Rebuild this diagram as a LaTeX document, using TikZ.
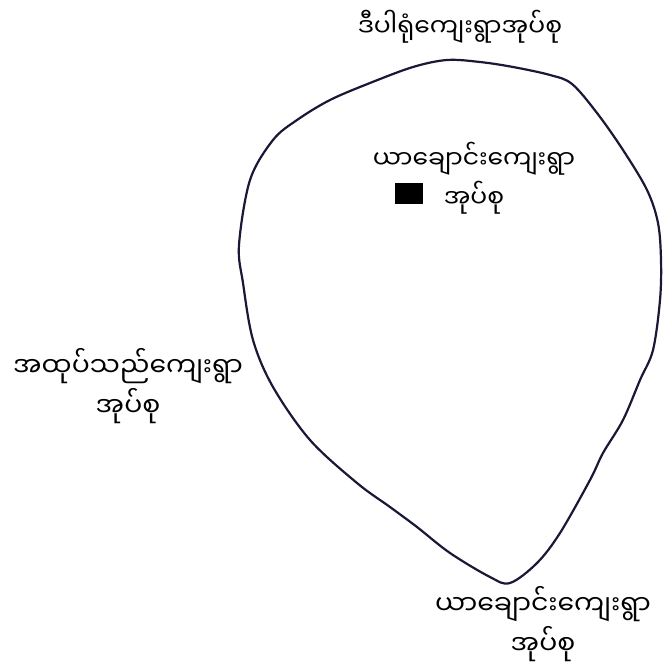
\documentclass[tikz,border=0pt]{standalone}
\usepackage{fontspec}
\newfontfamily\mm[Script=Myanmar]{Noto Sans Myanmar UI}
\begin{document}
\begin{tikzpicture}[x=1pt,y=-1pt,
  lbl/.style={font=\mm\fontsize{25}{39}\selectfont, align=center, inner sep=0pt, text=black},
  biglbl/.style={lbl, font=\mm\fontsize{26.7}{40}\selectfont},
  outline/.style={draw={rgb,255:red,25;green,25;blue,55}, line width=2.2pt, line join=round}]
\useasboundingbox (0,0) rectangle (663,668);
\fill[white] (0,0) rectangle (663,668);
\draw[outline] plot[smooth cycle, tension=0.55] coordinates {
 (510,583) (490,577) (450,553) (417,527) (390,507) (357,483) (310,440)
 (273,387) (253,340) (243,283) (239,245) (250,180) (273,140) (297,120)
 (330,100) (370,83) (413,67) (447,60) (480,62) (513,67) (550,75) (572,84)
 (597,113) (623,150) (647,190) (658,223) (661,260) (660,300) (653,350)
 (640,380) (623,420) (603,453) (590,480) (560,533) (537,563)};
\node[lbl] (top) at (460,27) {ဒီပါရုံကျေးရွာအုပ်စု};
\node[lbl] (inner) at (474,178) {ယာချောင်းကျေးရွာ\\အုပ်စု};
\node[fill=black, minimum width=28pt, minimum height=21pt, inner sep=0pt] (sq) at (409,193.5) {};
\node[biglbl] (left) at (128,386) {အထုပ်သည်ကျေးရွာ\\အုပ်စု};
\node[biglbl] (bottom) at (543,624) {ယာချောင်းကျေးရွာ\\အုပ်စု};
\end{tikzpicture}
\end{document}
